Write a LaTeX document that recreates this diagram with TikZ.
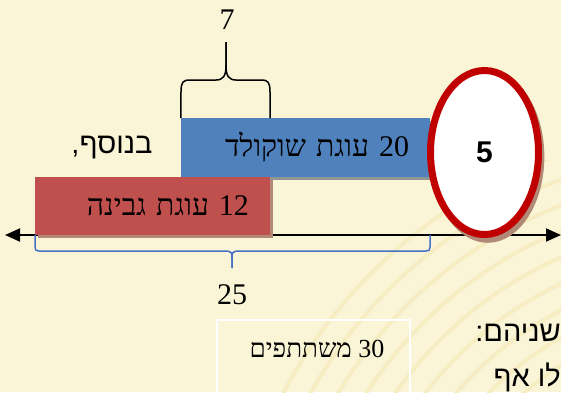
\documentclass[tikz,border=0pt]{standalone}
\usepackage{fontspec}
\usetikzlibrary{shapes.geometric,shadows,arrows.meta}
\TeXXeTstate=1
\newfontfamily\hebserif[Script=Hebrew]{Liberation Serif}
\newfontfamily\hebsans[Script=Hebrew]{Liberation Sans}
\definecolor{bg_cream}{RGB}{251,245,215}
\definecolor{bg_arc}{RGB}{247,237,195}
\definecolor{box_red}{RGB}{192,80,77}
\definecolor{box_blue}{RGB}{79,129,189}
\definecolor{ring_red}{RGB}{192,0,0}
\definecolor{brace_blue}{RGB}{68,114,196}
\definecolor{shade_brown}{RGB}{176,138,118}
\definecolor{shade_grey}{RGB}{146,150,146}
\tikzstyle{cake}=[rectangle,draw=none,inner xsep=21pt,inner ysep=0pt,align=right,
  font=\hebserif\fontsize{30}{30}\selectfont]
\tikzstyle{rb}=[cake,fill=box_red,minimum height=58pt,text width=193pt,
  drop shadow={shadow xshift=3pt,shadow yshift=-3pt,fill=shade_brown,opacity=1}]
\tikzstyle{bb}=[cake,fill=box_blue,minimum height=59pt,text width=207pt,
  drop shadow={shadow xshift=3pt,shadow yshift=-3pt,fill=shade_grey,opacity=1}]
\tikzstyle{ring}=[ellipse,draw=ring_red,line width=7pt,fill=white,inner sep=0pt,
  minimum width=108pt,minimum height=164pt,font=\hebsans\bfseries\fontsize{30}{30}\selectfont,
  drop shadow={shadow xshift=3pt,shadow yshift=-4pt,shadow scale=1.05,fill=shade_brown,opacity=1}]
\tikzstyle{num}=[inner sep=0pt,font=\hebserif\fontsize{30}{30}\selectfont]
\tikzstyle{say}=[inner sep=0pt,font=\hebsans\fontsize{29}{29}\selectfont]

\begin{document}
\begin{tikzpicture}[x=1pt,y=-1pt]
    \useasboundingbox (0,0) rectangle (561,392);
    \fill[bg_cream] (0,0) rectangle (561,392);
    \begin{scope}
      \clip (240,160) rectangle (561,392);
      \foreach \r in {300,324,...,492}
        \draw[bg_arc,line width=4pt] (720,620) circle[radius=\r pt];
    \end{scope}
    \coordinate (l) at (5,235);
    \coordinate (r) at (561,235);
    \draw[line width=2pt,{Triangle[length=15pt,width=13pt]}-{Triangle[length=15pt,width=13pt]}] (l) -- (r);
    % bottom brace
    \coordinate (b0) at (35,235);
    \coordinate (b1) at (430,235);
    \coordinate (bt) at (232,268);
    \draw[brace_blue,line width=1.5pt] (b0) -- (35,247) .. controls (35,250) and (36,251) .. (39,251)
      -- (228,251) .. controls (231,251) and (232,253) .. (232,258) -- (bt);
    \draw[brace_blue,line width=1.5pt] (bt) -- (232,258) .. controls (232,253) and (233,251) .. (236,251)
      -- (426,251) .. controls (429,251) and (430,250) .. (430,247) -- (b1);
    \node [style=num] (n25) at (232,295) {25};
    \node [style=bb] (choc) at (305.5,147.5) {\beginR\beginL20\endL{} עוגת שוקולד\endR};
    \node [style=rb] (chee) at (152.5,206) {\beginR\beginL12\endL{} עוגת גבינה\endR};
    \node [style=ring] (five) at (484.5,152.5) {5};
    % top brace
    \coordinate (tt) at (226,42);
    \draw[line width=1.5pt] (choc.north west) -- (181,92) .. controls (181,82) and (183,80) .. (190,80)
      -- (216,80) .. controls (223,80) and (226,76) .. (226,66) -- (tt);
    \draw[line width=1.5pt] (tt) -- (226,66) .. controls (226,76) and (229,80) .. (236,80)
      -- (261,80) .. controls (268,80) and (270,82) .. (270,92) -- (270,118);
    \node [style=num] (n7) at (227,20) {7};
    \node [style=say] (also) at (112,148) {\beginR בנוסף,\endR};
    \node [draw=white,line width=1.5pt,minimum width=193pt,minimum height=100pt] (crowd) at (313.5,370) {};
    \node [style=num,font=\hebserif\fontsize{26}{26}\selectfont] (n30) at (317,349) {\beginR\beginL30\endL{} משתתפים\endR};
    \node [style=say,anchor=east] (both) at (561,333) {\beginR שניהם:\endR};
    \node [style=say,anchor=east] (even) at (561,377) {\beginR לו אף\endR};
  \end{tikzpicture}
\end{document}
